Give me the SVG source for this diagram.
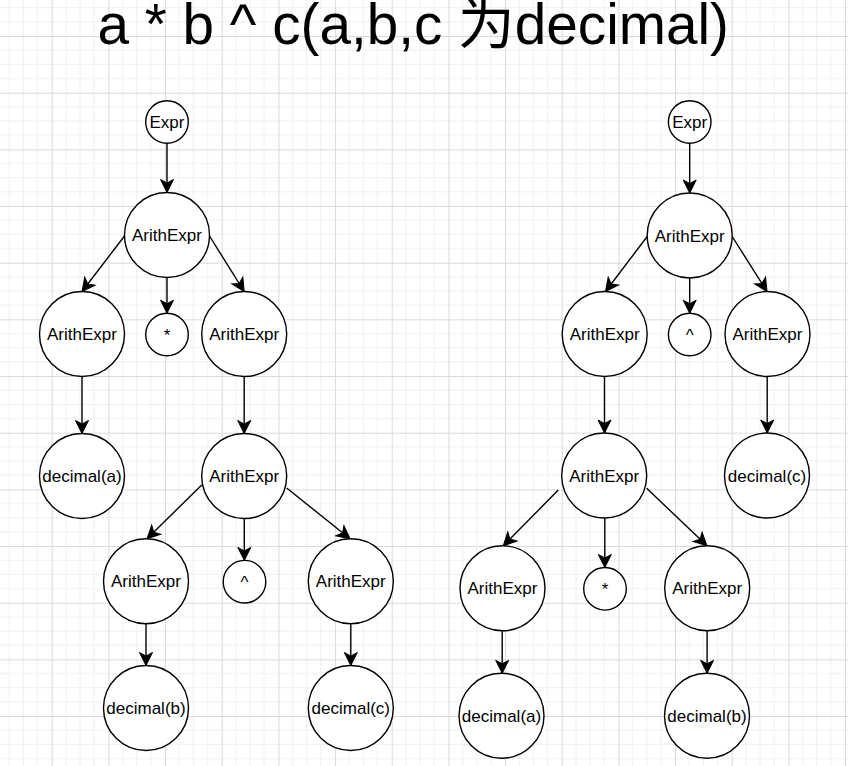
<svg xmlns="http://www.w3.org/2000/svg" width="848" height="766" viewBox="0 0 848 766">
<style>
.n circle{fill:#fff;stroke:#000;stroke-width:1.4}
.n text{font-family:"Liberation Sans",Arial,sans-serif;font-size:17px;fill:#000;text-anchor:middle}
#edges line{stroke:#000;stroke-width:1.4;marker-end:url(#arr)}
.title{font-family:"Liberation Sans","Noto Sans CJK SC",sans-serif;font-size:56.7px;fill:#000}
</style>
<defs>
<pattern id="grid" patternUnits="userSpaceOnUse" x="51.7" y="36" width="56.67" height="56.67">
<path d="M14.17,0V56.67M28.33,0V56.67M42.5,0V56.67M0,14.17H56.67M0,28.33H56.67M0,42.5H56.67" stroke="#efefef" stroke-width="1" fill="none"/>
<path d="M0.5,0V56.67M0,0.5H56.67" stroke="#dadada" stroke-width="1" fill="none"/>
</pattern>
<marker id="arr" markerUnits="userSpaceOnUse" markerWidth="16" markerHeight="16" refX="13" refY="0" orient="auto" overflow="visible">
<path d="M13,0L0,-6.5L3.5,0L0,6.5Z" fill="#000" stroke="#000" stroke-width="1"/>
</marker>
</defs>
<rect width="848" height="766" fill="#fff"/>
<rect width="848" height="766" fill="url(#grid)"/>
<text class="title" x="97.5" y="43.5">a * b ^ c(a,b,c 为decimal)</text>
<g id="edges">
<line x1="167" y1="143.3" x2="167" y2="192.5"/>
<line x1="124.5" y1="236" x2="82" y2="291.5"/>
<line x1="167" y1="277.5" x2="167" y2="313.2"/>
<line x1="209.5" y1="236" x2="244.2" y2="291.5"/>
<line x1="82" y1="376.5" x2="82" y2="433.5"/>
<line x1="244.2" y1="376.5" x2="244.2" y2="433.5"/>
<line x1="201.7" y1="485" x2="147" y2="538.8"/>
<line x1="244.3" y1="518.5" x2="244.3" y2="560.4"/>
<line x1="286.7" y1="488" x2="350" y2="538.8"/>
<line x1="146" y1="623.8" x2="146" y2="665.5"/>
<line x1="350.8" y1="623.8" x2="350.8" y2="665.5"/>
<line x1="689.7" y1="143.3" x2="689.7" y2="193"/>
<line x1="647.2" y1="236.5" x2="605.5" y2="291.5"/>
<line x1="689.7" y1="278" x2="689.7" y2="313.2"/>
<line x1="732.2" y1="236.5" x2="767" y2="291.5"/>
<line x1="604.5" y1="376.5" x2="604.5" y2="433"/>
<line x1="767.2" y1="376.5" x2="767.2" y2="433"/>
<line x1="558.3" y1="490" x2="503.3" y2="545.8"/>
<line x1="604.8" y1="518" x2="604.8" y2="567.5"/>
<line x1="646.7" y1="488.3" x2="707" y2="545.8"/>
<line x1="502.2" y1="630.8" x2="502.2" y2="673.3"/>
<line x1="707.1" y1="630.8" x2="707.1" y2="673.3"/>
</g>
<g id="L_expr" class="n"><circle cx="167" cy="122" r="21.3"/><text x="167" y="128">Expr</text></g>
<g id="L_ae1" class="n"><circle cx="167" cy="235" r="42.5"/><text x="167" y="241">ArithExpr</text></g>
<g id="L_ae2" class="n"><circle cx="82" cy="334" r="42.5"/><text x="82" y="340">ArithExpr</text></g>
<g id="L_mul" class="n"><circle cx="167" cy="334.5" r="21.3"/><text x="167" y="340.5">*</text></g>
<g id="L_ae3" class="n"><circle cx="244.2" cy="334" r="42.5"/><text x="244.2" y="340">ArithExpr</text></g>
<g id="L_da" class="n"><circle cx="82" cy="476" r="42.5"/><text x="82" y="482">decimal(a)</text></g>
<g id="L_ae4" class="n"><circle cx="244.2" cy="476" r="42.5"/><text x="244.2" y="482">ArithExpr</text></g>
<g id="L_ae5" class="n"><circle cx="146" cy="581.3" r="42.5"/><text x="146" y="587.3">ArithExpr</text></g>
<g id="L_pow" class="n"><circle cx="244.5" cy="581.7" r="21.3"/><text x="244.5" y="587.7">^</text></g>
<g id="L_ae6" class="n"><circle cx="350.8" cy="581.3" r="42.5"/><text x="350.8" y="587.3">ArithExpr</text></g>
<g id="L_db" class="n"><circle cx="146" cy="708" r="42.5"/><text x="146" y="714">decimal(b)</text></g>
<g id="L_dc" class="n"><circle cx="350.8" cy="708" r="42.5"/><text x="350.8" y="714">decimal(c)</text></g>
<g id="R_expr" class="n"><circle cx="689.7" cy="122" r="21.3"/><text x="689.7" y="128">Expr</text></g>
<g id="R_ae1" class="n"><circle cx="689.7" cy="235.5" r="42.5"/><text x="689.7" y="241.5">ArithExpr</text></g>
<g id="R_ae2" class="n"><circle cx="604.7" cy="334" r="42.5"/><text x="604.7" y="340">ArithExpr</text></g>
<g id="R_pow" class="n"><circle cx="689.7" cy="334.5" r="21.3"/><text x="689.7" y="340.5">^</text></g>
<g id="R_ae3" class="n"><circle cx="767.5" cy="334" r="42.5"/><text x="767.5" y="340">ArithExpr</text></g>
<g id="R_ae4" class="n"><circle cx="604.2" cy="475.5" r="42.5"/><text x="604.2" y="481.5">ArithExpr</text></g>
<g id="R_dc" class="n"><circle cx="767" cy="475.5" r="42.5"/><text x="767" y="481.5">decimal(c)</text></g>
<g id="R_ae5" class="n"><circle cx="502.5" cy="588.3" r="42.5"/><text x="502.5" y="594.3">ArithExpr</text></g>
<g id="R_mul" class="n"><circle cx="605" cy="588.8" r="21.3"/><text x="605" y="594.8">*</text></g>
<g id="R_ae6" class="n"><circle cx="707.2" cy="588.3" r="42.5"/><text x="707.2" y="594.3">ArithExpr</text></g>
<g id="R_da" class="n"><circle cx="501.5" cy="715.8" r="42.5"/><text x="501.5" y="721.8">decimal(a)</text></g>
<g id="R_db" class="n"><circle cx="707" cy="715.8" r="42.5"/><text x="707" y="721.8">decimal(b)</text></g>
</svg>
